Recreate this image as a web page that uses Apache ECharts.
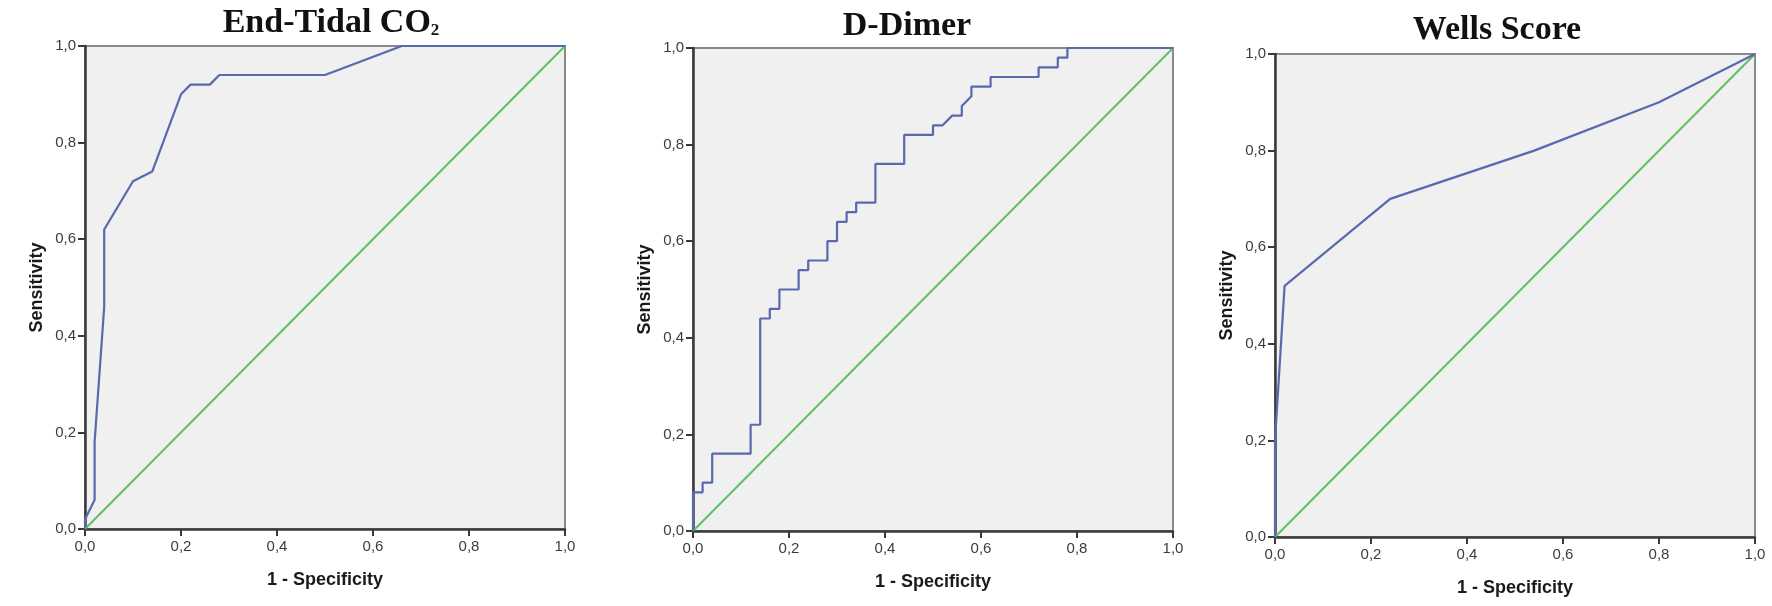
<!DOCTYPE html>
<html>
<head>
<meta charset="utf-8">
<script src="https://cdn.jsdelivr.net/npm/echarts@6/dist/echarts.min.js"></script>
<style>
html,body{margin:0;padding:0;background:#fff;}
#c{width:1772px;height:606px;}
</style>
</head>
<body>
<div id="c"></div>
<script>
// ---- data ----
const titles = ['{a|End-Tidal CO}{s|2}', '{a|D-Dimer}', '{a|Wells Score}'];
const xName = '1 - Specificity';
const yName = 'Sensitivity';
const tickLabels = ['0,0', '0,2', '0,4', '0,6', '0,8', '1,0'];

const etco2X = [0, 0, 0.02, 0.02, 0.04, 0.04, 0.10, 0.14, 0.20, 0.22, 0.26, 0.28, 0.50, 0.66, 1.0];
const etco2Y = [0, 0.02, 0.06, 0.18, 0.46, 0.62, 0.72, 0.74, 0.90, 0.92, 0.92, 0.94, 0.94, 1.0, 1.0];

const ddimerX = [0, 0, 0.02, 0.02, 0.04, 0.04, 0.12, 0.12, 0.14, 0.14, 0.16, 0.16, 0.18, 0.18, 0.22, 0.22, 0.24, 0.24, 0.28, 0.28, 0.30, 0.30, 0.32, 0.32, 0.34, 0.34, 0.38, 0.38, 0.44, 0.44, 0.50, 0.50, 0.52, 0.54, 0.56, 0.56, 0.58, 0.58, 0.62, 0.62, 0.72, 0.72, 0.76, 0.76, 0.78, 0.78, 1.0];
const ddimerY = [0, 0.08, 0.08, 0.10, 0.10, 0.16, 0.16, 0.22, 0.22, 0.44, 0.44, 0.46, 0.46, 0.50, 0.50, 0.54, 0.54, 0.56, 0.56, 0.60, 0.60, 0.64, 0.64, 0.66, 0.66, 0.68, 0.68, 0.76, 0.76, 0.82, 0.82, 0.84, 0.84, 0.86, 0.86, 0.88, 0.90, 0.92, 0.92, 0.94, 0.94, 0.96, 0.96, 0.98, 0.98, 1.0, 1.0];

const wellsX = [0, 0, 0.02, 0.24, 0.54, 0.80, 1.0];
const wellsY = [0, 0.20, 0.52, 0.70, 0.80, 0.90, 1.0];

const refX = [0, 1];
const refY = [0, 1];

const curvesX = [etco2X, ddimerX, wellsX];
const curvesY = [etco2Y, ddimerY, wellsY];

// ---- layout / style ----
const grids = [
  {left: 85, top: 46, width: 480, height: 483},
  {left: 693, top: 48, width: 480, height: 483},
  {left: 1275, top: 54, width: 480, height: 483}
];
const titlePos = [{x: 326, y: -1}, {x: 902, y: 2}, {x: 1492, y: 6}];

const blue = '#5869ae';
const green = '#5ec25e';
const axisCol = '#3a3a3a';

function zip(a, b) { return a.map((v, i) => [v, b[i]]); }
function fmt(v) { return tickLabels[Math.round(v / 0.2)]; }

const titleFont = {fontFamily: 'Liberation Serif', fontWeight: 'bold', color: '#111'};

const option = {
  backgroundColor: '#ffffff',
  animation: false,
  title: titles.map((t, i) => ({
    text: t,
    left: titlePos[i].x,
    top: titlePos[i].y,
    textAlign: 'center',
    textStyle: {
      fontFamily: 'Liberation Serif', fontWeight: 'bold', fontSize: 34, color: '#111',
      rich: {
        a: Object.assign({fontSize: 34, lineHeight: 38}, titleFont),
        s: Object.assign({fontSize: 17, lineHeight: 38, verticalAlign: 'bottom', padding: [0, 0, 3, 0]}, titleFont)
      }
    }
  })),
  grid: grids.map(g => Object.assign({
    show: true, backgroundColor: '#f0f0f0', borderColor: '#8a8a8a', borderWidth: 2
  }, g)),
  xAxis: grids.map((g, i) => ({
    type: 'value', gridIndex: i, min: 0, max: 1, interval: 0.2,
    name: xName, nameLocation: 'middle', nameGap: 42,
    nameTextStyle: {fontFamily: 'Liberation Sans', fontWeight: 'bold', fontSize: 18, color: '#1a1a1a'},
    axisLine: {show: true, onZero: false, lineStyle: {color: axisCol, width: 2.5}},
    axisTick: {show: true, inside: false, length: 7, lineStyle: {color: axisCol, width: 2}},
    axisLabel: {formatter: fmt, margin: 10, fontFamily: 'Liberation Sans', fontSize: 15, color: '#3c3c3c'},
    splitLine: {show: false}
  })),
  yAxis: grids.map((g, i) => ({
    type: 'value', gridIndex: i, min: 0, max: 1, interval: 0.2,
    name: yName, nameLocation: 'middle', nameGap: 39,
    nameTextStyle: {fontFamily: 'Liberation Sans', fontWeight: 'bold', fontSize: 18, color: '#1a1a1a'},
    axisLine: {show: true, onZero: false, lineStyle: {color: axisCol, width: 2.5}},
    axisTick: {show: true, inside: false, length: 7, lineStyle: {color: axisCol, width: 2}},
    axisLabel: {formatter: fmt, margin: 9, fontFamily: 'Liberation Sans', fontSize: 15, color: '#3c3c3c'},
    splitLine: {show: false}
  })),
  series: []
};

grids.forEach((g, i) => {
  option.series.push({
    type: 'line', xAxisIndex: i, yAxisIndex: i, data: zip(refX, refY),
    symbol: 'none', lineStyle: {color: green, width: 2}, z: 3
  });
  option.series.push({
    type: 'line', xAxisIndex: i, yAxisIndex: i, data: zip(curvesX[i], curvesY[i]),
    symbol: 'none', lineStyle: {color: blue, width: 2.2}, z: 4
  });
});

const chart = echarts.init(document.getElementById('c'));
chart.setOption(option);
</script>
</body>
</html>
